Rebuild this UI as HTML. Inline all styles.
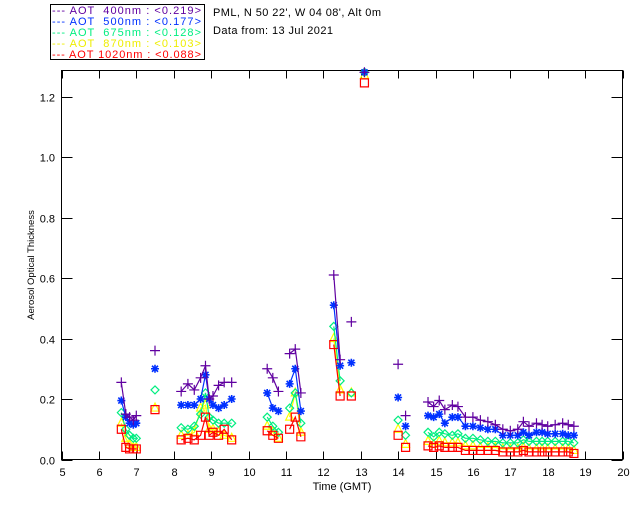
<!DOCTYPE html>
<html><head><meta charset="utf-8"><style>
body{margin:0;background:#fff;}
svg{display:block;font-family:"Liberation Sans",sans-serif;}
</style></head><body>
<svg id="chart" width="640" height="512" viewBox="0 0 640 512">
<rect width="640" height="512" fill="#fff"/>
<g>
<rect x="50.5" y="4.5" width="154" height="55" fill="#fff" stroke="#000"/>
<g font-size="11">
<text x="52" y="14" fill="#6000a0" textLength="149" lengthAdjust="spacing" xml:space="preserve">--- AOT  400nm : &lt;0.219&gt;</text>
<text x="52" y="25" fill="#0030ff" textLength="149" lengthAdjust="spacing" xml:space="preserve">--- AOT  500nm : &lt;0.177&gt;</text>
<text x="52" y="36" fill="#00ee80" textLength="149" lengthAdjust="spacing" xml:space="preserve">--- AOT  675nm : &lt;0.128&gt;</text>
<text x="52" y="47" fill="#eeee00" textLength="149" lengthAdjust="spacing" xml:space="preserve">--- AOT  870nm : &lt;0.103&gt;</text>
<text x="52" y="58" fill="#ff0000" textLength="149" lengthAdjust="spacing" xml:space="preserve">--- AOT 1020nm : &lt;0.088&gt;</text>
</g></g>
<text x="213" y="16" font-size="11" textLength="168" lengthAdjust="spacing">PML, N 50 22', W 04 08', Alt 0m</text>
<text x="213" y="34" font-size="11" textLength="120" lengthAdjust="spacing">Data from: 13 Jul 2021</text>
<rect x="61.5" y="70.5" width="561" height="389" fill="none" stroke="#000"/>
<g id="axes"></g>
<g id="marks"></g>
<text x="342" y="490" font-size="11" text-anchor="middle">Time (GMT)</text>
<text transform="translate(34,265) rotate(-90)" font-size="9.5" text-anchor="middle">Aerosol Optical Thickness</text>
</svg>
<script>
const xTicks=[5,6,7,8,9,10,11,12,13,14,15,16,17,18,19,20];
const yTicks=[0,0.2,0.4,0.6,0.8,1.0,1.2];
const yTickLabels=["0.0","0.2","0.4","0.6","0.8","1.0","1.2"];
const times=[6.6,6.72,6.82,6.92,7.0,null,7.5,null,8.2,8.38,8.55,8.72,8.85,8.95,9.05,9.2,9.35,9.55,null,10.5,10.65,10.8,null,11.1,11.25,11.4,null,12.28,12.45,null,12.75,null,13.1,null,14.0,null,14.2,null,
14.8,14.95,15.1,15.25,15.45,15.6,15.8,16.0,16.2,16.4,16.6,16.8,17.0,17.2,17.35,17.5,17.7,17.85,18.0,18.2,18.4,18.55,18.7];
const aot400=[0.255,0.15,0.14,0.13,0.145,null,0.36,null,0.225,0.25,0.23,0.27,0.31,0.2,0.21,0.245,0.255,0.255,null,0.3,0.27,0.225,null,0.35,0.365,0.22,null,0.61,0.33,null,0.455,null,1.28,null,0.315,null,0.145,null,
0.19,0.175,0.195,0.165,0.18,0.175,0.14,0.14,0.13,0.125,0.115,0.1,0.095,0.1,0.125,0.11,0.12,0.115,0.11,0.115,0.12,0.115,0.11];
const aot500=[0.195,0.14,0.12,0.115,0.12,null,0.3,null,0.18,0.18,0.18,0.2,0.28,0.2,0.18,0.17,0.18,0.2,null,0.22,0.17,0.16,null,0.25,0.3,0.16,null,0.51,0.31,null,0.32,null,1.28,null,0.205,null,0.11,null,
0.145,0.14,0.15,0.12,0.14,0.14,0.11,0.11,0.105,0.1,0.1,0.08,0.08,0.08,0.09,0.08,0.09,0.09,0.085,0.085,0.085,0.08,0.08];
const aot675=[0.155,0.1,0.08,0.07,0.07,null,0.23,null,0.105,0.1,0.11,0.15,0.22,0.14,0.13,0.12,0.12,0.12,null,0.14,0.11,0.09,null,0.17,0.22,0.12,null,0.44,0.26,null,0.22,null,1.28,null,0.13,null,0.08,null,
0.09,0.075,0.09,0.085,0.08,0.085,0.07,0.07,0.065,0.06,0.06,0.055,0.055,0.055,0.065,0.06,0.06,0.06,0.06,0.06,0.06,0.06,0.055];
const aot870=[0.12,0.07,0.05,0.04,0.04,null,0.17,null,0.08,0.08,0.09,0.17,0.18,0.1,0.1,0.09,0.08,0.07,null,0.11,0.09,0.07,null,0.14,0.22,0.09,null,0.4,0.23,null,0.22,null,1.27,null,0.1,null,0.05,null,
0.06,0.05,0.06,0.055,0.055,0.055,0.045,0.045,0.04,0.04,0.04,0.035,0.035,0.035,0.04,0.035,0.035,0.035,0.035,0.035,0.035,0.035,0.03];
const aot1020=[0.1,0.04,0.035,0.035,0.035,null,0.165,null,0.065,0.07,0.065,0.08,0.14,0.08,0.09,0.08,0.1,0.065,null,0.095,0.08,0.07,null,0.1,0.14,0.075,null,0.38,0.21,null,0.21,null,1.245,null,0.08,null,0.04,null,
0.045,0.04,0.045,0.04,0.04,0.04,0.03,0.03,0.03,0.03,0.03,0.025,0.025,0.025,0.03,0.025,0.025,0.025,0.025,0.025,0.025,0.025,0.02];

const NS="http://www.w3.org/2000/svg";
const X0=61.5,X1=622.5,Y0=459.5,YPER=302.5;
function xs(t){return X0+(t-5)/15*(X1-X0);}
function ys(v){return Y0-v*YPER;}
function mk(tag,attrs,parent){const e=document.createElementNS(NS,tag);for(const k in attrs)e.setAttribute(k,attrs[k]);parent.appendChild(e);return e;}
const axes=document.getElementById('axes'),marks=document.getElementById('marks');
xTicks.forEach((t,i)=>{
  const x=Math.round(xs(t))+0.5;
  const l=mk('path',{d:`M${x} 459.5V451.5M${x} 70.5V78.5`,stroke:'#000'},axes);
  
  
  const tx=mk('text',{x:x,y:476,'font-size':'11','text-anchor':'middle'},axes);
  tx.textContent=t;
  
  
});
yTicks.forEach((v,i)=>{
  const y=Math.round(ys(v))+0.5;
  const l=mk('path',{d:`M61.5 ${y}H72.5M622.5 ${y}H611.5`,stroke:'#000'},axes);
  
  
  const tx=mk('text',{x:55,y:y+4,'font-size':'11','text-anchor':'end'},axes);
  tx.textContent=yTickLabels[i];
  
  
});
function marker(type,x,y,c,g){
  let d;
  if(type==='plus')d=`M${x-5} ${y}H${x+5}M${x} ${y-5}V${y+5}`;
  else if(type==='star')d=`M${x-4} ${y}H${x+4}M${x} ${y-4}V${y+4}M${x-3} ${y-3}L${x+3} ${y+3}M${x-3} ${y+3}L${x+3} ${y-3}`;
  else if(type==='diamond')d=`M${x} ${y-4}L${x+4} ${y}L${x} ${y+4}L${x-4} ${y}Z`;
  else if(type==='tri')d=`M${x} ${y-5}L${x+4} ${y+3}L${x-4} ${y+3}Z`;
  else d=`M${x-4} ${y-4}H${x+4}V${y+4}H${x-4}Z`;
  const p=mk('path',{d:d,stroke:c,fill:'none','stroke-width':type==='star'?1.6:1.2},g);
  
  
}
const series=[[aot870,'#ffff00','tri','series-870'],[aot675,'#00ee80','diamond','series-675'],[aot1020,'#ff0000','square','series-1020'],[aot500,'#0030ff','star','series-500'],[aot400,'#6000a0','plus','series-400']];
series.forEach(([vals,c,type,name])=>{
  const g=mk('g',{},marks);
  
  
  let d='',pen=false;
  for(let i=0;i<times.length;i++){
    if(times[i]===null||vals[i]===null){pen=false;continue;}
    const x=xs(times[i]),y=Math.max(ys(vals[i]),71);
    d+=(pen?'L':'M')+x.toFixed(1)+' '+y.toFixed(1);pen=true;
  }
  const line=mk('path',{d:d,stroke:c,fill:'none','stroke-width':1.2},g);
  
  
  for(let i=0;i<times.length;i++){
    if(times[i]===null||vals[i]===null)continue;
    marker(type,xs(times[i]),Math.max(ys(vals[i]),71),c,g);
  }
});
</script>
</body></html>
